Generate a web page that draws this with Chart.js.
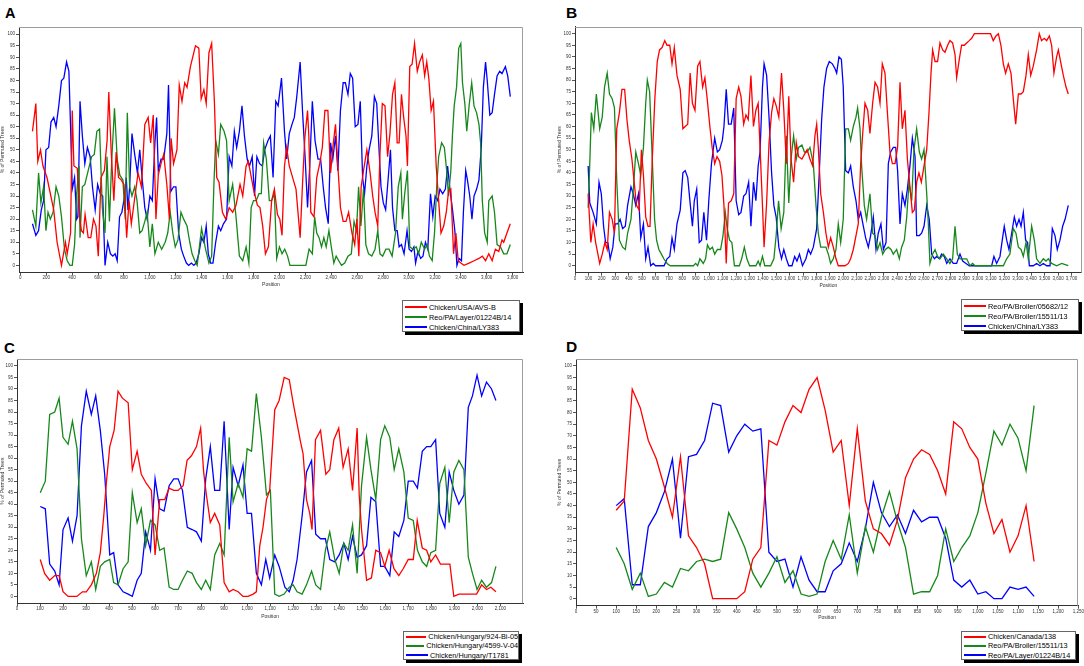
<!DOCTYPE html>
<html lang="en">
<head>
<meta charset="UTF-8">
<title>Recombination plots</title>
<script src="https://cdn.jsdelivr.net/npm/chart.js"></script>
<style>
    body { margin: 0; background: #fff; }
    #page { position: relative; width: 1084px; height: 666px; overflow: hidden; font-family: "Liberation Sans", Arial, sans-serif; }
    canvas { position: absolute; }
    .tag { position: absolute; font-weight: bold; line-height: 1; color: #000; }
    .legend {
        position: absolute;
        background: #fff;
        border: 1px solid #666;
        box-shadow: 3px 3px 0 #000;
        box-sizing: border-box;
        font-size: 7.3px;
        color: #000;
    }
    .legend .row { display: flex; align-items: center; white-space: nowrap; }
    .legend .swatch { display: inline-block; width: 22px; height: 2px; margin: 0 2px 0 2px; }
</style>
</head>
<body>
<div id="page">
    <div class="tag" style="left:5px;top:6px;font-size:14.5px">A</div>
    <div class="tag" style="left:566px;top:5px;font-size:15.5px">B</div>
    <div class="tag" style="left:4px;top:340px;font-size:15px">C</div>
    <div class="tag" style="left:566px;top:339px;font-size:15.5px">D</div>

    <canvas id="chartA" width="530" height="280" style="left:0;top:20px"></canvas>
    <canvas id="chartB" width="528" height="280" style="left:556px;top:20px"></canvas>
    <canvas id="chartC" width="530" height="280" style="left:0;top:350px"></canvas>
    <canvas id="chartD" width="528" height="280" style="left:556px;top:350px"></canvas>

    <div class="legend" id="legendA" style="left:402px;top:300px;width:118px;height:32px;padding-top:1px"></div>
    <div class="legend" id="legendB" style="left:961px;top:299px;width:118px;height:32px;padding-top:1px"></div>
    <div class="legend" id="legendC" style="left:403px;top:631px;width:116px;height:29px"></div>
    <div class="legend" id="legendD" style="left:961px;top:631px;width:115px;height:29px"></div>
</div>
<script>
    // tick labels
    const yTicks = [0, 5, 10, 15, 20, 25, 30, 35, 40, 45, 50, 55, 60, 65, 70, 75, 80, 85, 90, 95, 100];
    const aXTicks = [0, 200, 400, 600, 800, 1000, 1200, 1400, 1600, 1800, 2000, 2200, 2400, 2600, 2800, 3000, 3200, 3400, 3600, 3800];
    const bXTicks = [0, 100, 200, 300, 400, 500, 600, 700, 800, 900, 1000, 1100, 1200, 1300, 1400, 1500, 1600, 1700, 1800, 1900, 2000, 2100, 2200, 2300, 2400, 2500, 2600, 2700, 2800, 2900, 3000, 3100, 3200, 3300, 3400, 3500, 3600, 3700];
    const cXTicks = [0, 100, 200, 300, 400, 500, 600, 700, 800, 900, 1000, 1100, 1200, 1300, 1400, 1500, 1600, 1700, 1800, 1900, 2000, 2100];
    const dXTicks = [0, 50, 100, 150, 200, 250, 300, 350, 400, 450, 500, 550, 600, 650, 700, 750, 800, 850, 900, 950, 1000, 1050, 1100, 1150, 1200, 1250];

    // series names
    const aNames = ['Chicken/USA/AVS-B', 'Reo/PA/Layer/01224B/14', 'Chicken/China/LY383'];
    const bNames = ['Reo/PA/Broiler/05682/12', 'Reo/PA/Broiler/15511/13', 'Chicken/China/LY383'];
    const cNames = ['Chicken/Hungary/924-Bi-05', 'Chicken/Hungary/4599-V-04', 'Chicken/Hungary/T1781'];
    const dNames = ['Chicken/Canada/138', 'Reo/PA/Broiler/15511/13', 'Reo/PA/Layer/01224B/14'];

    // panel A: [position, % of permuted trees]
    const aRed = [[94,58],[120,70],[135,45],[156,50],[175,43],[206,38],[258,24],[284,10],[318,0],[349,10],[362,5],[388,14],[401,67],[414,43],[440,42],[461,19],[472,15],[487,14],[500,22],[524,12],[544,12],[565,20],[584,17],[602,4],[623,38],[649,41],[670,54],[683,75],[701,50],[722,28],[740,49],[758,38],[779,37],[800,35],[821,12],[839,28],[857,18],[878,27],[909,40],[935,34],[961,61],[987,64],[1006,53],[1026,65],[1047,20],[1065,39],[1086,44],[1107,48],[1131,35],[1151,20],[1164,55],[1183,44],[1209,50],[1227,78],[1248,71],[1269,79],[1287,77],[1313,86],[1352,95],[1378,94],[1396,72],[1417,76],[1435,70],[1456,92],[1477,96],[1498,71],[1516,38],[1534,36],[1560,23],[1586,20],[1612,25],[1639,23],[1665,26],[1696,35],[1717,30],[1743,43],[1760,45],[1800,33],[1830,26],[1850,25],[1871,17],[1892,5],[1915,8],[1940,28],[1961,33],[1985,22],[2003,20],[2020,13],[2039,43],[2056,51],[2076,43],[2107,37],[2128,33],[2160,12],[2178,35],[2196,55],[2217,67],[2227,56],[2242,23],[2267,21],[2288,38],[2311,44],[2331,51],[2351,67],[2374,67],[2395,40],[2412,51],[2433,61],[2451,43],[2471,25],[2492,19],[2514,19],[2534,23],[2560,14],[2581,9],[2598,20],[2613,4],[2631,34],[2649,41],[2675,50],[2700,40],[2720,30],[2738,23],[2759,17],[2776,48],[2794,70],[2815,69],[2835,47],[2853,57],[2873,74],[2891,79],[2909,53],[2924,53],[2942,74],[2959,64],[2977,56],[2988,43],[3006,86],[3024,87],[3043,96],[3064,84],[3082,88],[3103,91],[3121,82],[3137,88],[3153,81],[3171,67],[3189,71],[3210,43],[3229,28],[3247,14],[3268,17],[3288,23],[3305,32],[3323,33],[3344,5],[3362,14],[3380,2],[3400,1],[3425,0],[3464,1],[3502,2],[3540,3],[3566,4],[3591,2],[3616,5],[3642,2],[3667,7],[3693,6],[3718,11],[3731,10],[3756,14],[3782,18]];
    const aGreen = [[94,24],[120,17],[141,40],[159,27],[180,34],[198,15],[214,23],[232,20],[253,23],[276,34],[297,30],[318,21],[341,7],[362,2],[383,0],[401,0],[419,9],[435,31],[453,43],[461,12],[479,34],[498,35],[524,41],[550,47],[571,48],[591,58],[612,59],[633,25],[654,14],[669,47],[688,19],[706,46],[727,68],[748,46],[768,39],[792,37],[810,20],[826,66],[844,34],[862,30],[883,34],[901,28],[922,14],[940,15],[961,19],[979,23],[1000,8],[1019,18],[1039,5],[1065,10],[1091,7],[1118,10],[1138,14],[1157,23],[1177,14],[1196,8],[1217,11],[1240,23],[1261,20],[1287,17],[1308,10],[1326,5],[1347,2],[1365,0],[1399,16],[1430,7],[1456,1],[1477,4],[1495,36],[1508,54],[1529,48],[1547,61],[1573,58],[1592,54],[1612,28],[1639,35],[1665,21],[1691,4],[1717,2],[1743,8],[1764,1],[1782,25],[1800,28],[1821,28],[1842,31],[1860,31],[1878,53],[1899,46],[1922,28],[1940,28],[1961,31],[1979,3],[2000,8],[2020,5],[2041,7],[2063,4],[2081,0],[2204,0],[2229,7],[2254,5],[2272,21],[2288,14],[2306,12],[2325,8],[2343,12],[2361,8],[2382,15],[2403,7],[2420,1],[2438,4],[2458,2],[2479,0],[2504,1],[2529,4],[2555,5],[2576,19],[2595,15],[2611,34],[2629,17],[2649,33],[2667,9],[2688,5],[2713,4],[2738,7],[2759,15],[2776,5],[2797,4],[2822,7],[2846,7],[2870,4],[2896,14],[2917,34],[2937,40],[2949,20],[2967,31],[2988,41],[3006,8],[3031,7],[3056,8],[3074,5],[3095,10],[3121,7],[3140,9],[3158,4],[3179,2],[3197,14],[3214,34],[3229,47],[3252,53],[3273,51],[3291,41],[3305,30],[3323,41],[3336,57],[3349,69],[3367,77],[3384,94],[3400,96],[3413,79],[3431,70],[3446,58],[3464,69],[3484,79],[3502,69],[3522,66],[3540,61],[3553,53],[3566,28],[3584,14],[3604,10],[3616,28],[3642,30],[3660,23],[3680,9],[3706,8],[3731,5],[3756,5],[3782,9]];
    const aBlue = [[94,18],[120,13],[141,15],[162,24],[180,28],[198,50],[219,51],[237,62],[258,64],[276,60],[297,69],[318,80],[336,81],[357,88],[375,84],[388,60],[401,33],[419,38],[435,20],[445,21],[461,71],[479,56],[498,44],[518,51],[539,47],[557,34],[578,24],[597,35],[617,31],[636,30],[654,0],[675,10],[696,5],[714,4],[732,5],[748,2],[766,21],[784,23],[805,30],[818,38],[831,24],[844,34],[862,57],[883,48],[904,40],[922,50],[940,38],[961,25],[979,20],[1000,30],[1019,28],[1039,53],[1052,64],[1065,41],[1086,46],[1107,46],[1131,57],[1144,78],[1162,32],[1183,34],[1201,34],[1222,14],[1243,7],[1261,4],[1282,1],[1300,0],[1321,1],[1339,0],[1357,1],[1378,5],[1399,12],[1417,10],[1435,17],[1451,5],[1469,1],[1487,1],[1508,10],[1529,17],[1547,15],[1568,18],[1592,20],[1612,47],[1633,43],[1652,58],[1670,51],[1691,58],[1711,69],[1730,56],[1751,46],[1769,43],[1790,47],[1808,30],[1826,47],[1847,44],[1868,43],[1886,50],[1912,54],[1930,56],[1951,38],[1972,71],[1990,69],[2016,81],[2039,58],[2056,46],[2076,57],[2097,61],[2115,64],[2134,73],[2160,88],[2178,67],[2199,46],[2217,25],[2234,43],[2254,71],[2275,54],[2298,46],[2318,46],[2338,34],[2356,25],[2377,18],[2395,53],[2412,46],[2433,56],[2451,41],[2471,67],[2492,79],[2509,79],[2529,74],[2547,83],[2565,81],[2585,60],[2606,61],[2624,71],[2642,38],[2657,31],[2675,43],[2692,50],[2713,56],[2733,73],[2751,70],[2768,51],[2784,34],[2802,27],[2820,24],[2840,38],[2857,50],[2873,25],[2891,15],[2909,15],[2924,8],[2942,9],[2962,5],[2985,15],[3001,7],[3019,6],[3038,8],[3051,1],[3069,6],[3090,3],[3108,4],[3127,10],[3145,7],[3166,31],[3184,21],[3202,30],[3222,28],[3239,33],[3260,31],[3281,33],[3298,43],[3316,33],[3336,24],[3354,15],[3370,0],[3387,3],[3405,2],[3420,23],[3438,41],[3451,37],[3469,30],[3486,20],[3502,30],[3522,33],[3540,37],[3558,51],[3574,77],[3591,88],[3604,80],[3624,65],[3642,66],[3660,74],[3680,82],[3700,84],[3718,83],[3744,86],[3762,82],[3782,73]];

    // panel B
    const bRed = [[98,31],[118,10],[135,18],[154,10],[184,1],[203,5],[223,10],[240,7],[257,23],[277,20],[294,14],[311,59],[331,66],[350,76],[370,76],[387,63],[404,54],[424,46],[441,36],[458,26],[478,24],[495,50],[510,39],[527,21],[544,17],[559,17],[576,46],[595,72],[613,88],[630,93],[649,94],[669,97],[686,95],[706,95],[723,87],[740,94],[760,82],[784,76],[804,59],[821,60],[840,61],[858,83],[875,70],[894,67],[914,86],[931,88],[951,77],[968,81],[985,72],[1005,60],[1022,51],[1041,44],[1058,47],[1078,45],[1095,39],[1110,26],[1127,1],[1144,27],[1164,28],[1183,31],[1201,72],[1220,77],[1237,73],[1257,61],[1274,65],[1291,63],[1311,82],[1330,60],[1348,67],[1365,70],[1379,51],[1397,26],[1409,8],[1428,27],[1446,53],[1465,66],[1482,72],[1499,69],[1519,64],[1539,83],[1556,67],[1575,44],[1593,73],[1610,46],[1629,36],[1649,53],[1666,47],[1691,46],[1710,48],[1730,50],[1751,46],[1771,43],[1788,56],[1801,61],[1813,51],[1831,31],[1851,23],[1870,14],[1888,8],[1905,12],[1925,8],[1945,3],[1962,0],[1987,0],[2012,0],[2037,1],[2054,3],[2074,7],[2094,13],[2111,18],[2129,44],[2144,57],[2161,70],[2181,67],[2198,57],[2218,70],[2236,79],[2255,77],[2273,70],[2290,87],[2310,83],[2327,67],[2347,49],[2365,44],[2385,44],[2404,51],[2422,79],[2439,59],[2459,67],[2477,46],[2496,34],[2514,23],[2529,24],[2546,36],[2563,40],[2581,36],[2601,43],[2621,50],[2638,66],[2653,83],[2665,93],[2683,88],[2702,88],[2720,96],[2740,93],[2757,92],[2777,95],[2794,97],[2814,96],[2832,91],[2844,81],[2864,89],[2881,95],[2901,95],[2919,96],[2938,97],[2956,98],[2976,100],[3006,100],[3055,100],[3097,100],[3117,97],[3137,99],[3155,100],[3174,95],[3192,87],[3209,83],[3229,87],[3249,83],[3266,72],[3284,61],[3304,74],[3324,74],[3341,75],[3361,82],[3378,91],[3396,82],[3415,86],[3440,93],[3460,100],[3477,97],[3497,98],[3515,97],[3535,99],[3552,95],[3569,83],[3589,90],[3602,93],[3622,87],[3639,82],[3659,77],[3676,74]];
    const bGreen = [[98,25],[110,44],[122,66],[140,59],[159,74],[184,59],[203,64],[220,77],[240,83],[257,74],[277,72],[294,68],[311,37],[331,11],[355,8],[375,7],[392,14],[417,20],[436,34],[453,49],[473,44],[490,39],[510,51],[527,70],[539,80],[556,75],[576,46],[593,20],[608,11],[625,7],[644,5],[662,3],[686,1],[710,0],[882,0],[899,1],[914,0],[931,3],[956,1],[973,3],[987,9],[1005,7],[1024,8],[1041,5],[1061,7],[1085,7],[1103,13],[1120,23],[1134,16],[1152,11],[1169,10],[1188,0],[1225,0],[1242,3],[1262,8],[1281,3],[1301,0],[1348,0],[1365,2],[1379,0],[1397,4],[1414,0],[1458,0],[1482,3],[1499,13],[1517,28],[1536,16],[1556,23],[1575,56],[1593,27],[1610,46],[1629,56],[1649,46],[1666,51],[1691,52],[1710,49],[1730,49],[1751,51],[1776,44],[1796,26],[1813,14],[1831,8],[1851,8],[1870,8],[1888,5],[1905,1],[1925,3],[1945,7],[1962,18],[1980,10],[1999,20],[2017,59],[2037,59],[2054,54],[2074,60],[2094,64],[2106,68],[2124,59],[2136,43],[2156,26],[2173,20],[2198,31],[2218,14],[2236,13],[2255,7],[2273,10],[2293,5],[2313,7],[2335,8],[2355,7],[2372,5],[2397,7],[2417,3],[2434,8],[2454,11],[2472,21],[2489,36],[2509,28],[2526,50],[2546,59],[2566,49],[2583,46],[2601,50],[2621,31],[2633,18],[2645,1],[2665,5],[2683,7],[2702,4],[2720,3],[2745,5],[2770,3],[2794,1],[2814,3],[2832,17],[2849,5],[2869,3],[2894,3],[2919,3],[2943,0],[2963,1],[2981,0],[3192,0],[3217,3],[3241,5],[3266,16],[3286,14],[3304,8],[3324,7],[3341,4],[3361,10],[3378,3],[3403,17],[3423,11],[3440,3],[3465,1],[3490,3],[3510,2],[3527,3],[3552,1],[3589,0],[3627,1],[3676,0]];
    const bBlue = [[98,43],[110,27],[135,23],[159,18],[179,36],[196,31],[213,17],[228,10],[245,10],[262,3],[282,8],[299,18],[318,18],[336,20],[355,16],[375,17],[392,26],[417,34],[434,31],[453,26],[473,31],[490,12],[510,18],[527,3],[544,8],[564,0],[583,1],[600,0],[625,0],[644,0],[664,0],[686,3],[706,4],[723,12],[740,7],[760,18],[784,24],[804,40],[821,41],[840,38],[858,27],[875,17],[889,28],[907,33],[926,10],[943,11],[960,23],[980,11],[997,28],[1017,44],[1041,55],[1061,49],[1078,50],[1098,54],[1110,60],[1127,76],[1144,61],[1164,61],[1183,68],[1201,28],[1220,22],[1237,23],[1257,30],[1274,31],[1294,36],[1311,17],[1330,36],[1348,28],[1365,43],[1379,49],[1397,77],[1409,87],[1428,82],[1446,64],[1465,40],[1482,26],[1499,21],[1519,8],[1539,3],[1556,7],[1575,3],[1593,0],[1617,0],[1637,4],[1654,2],[1673,5],[1695,0],[1721,3],[1739,7],[1756,5],[1776,8],[1801,16],[1821,41],[1838,63],[1855,77],[1875,85],[1895,88],[1918,87],[1937,85],[1950,83],[1967,90],[1985,89],[1999,77],[2017,41],[2037,40],[2054,43],[2074,34],[2094,28],[2111,20],[2129,23],[2149,17],[2166,12],[2186,8],[2203,13],[2223,21],[2243,7],[2260,14],[2280,18],[2298,7],[2318,10],[2335,44],[2352,49],[2372,51],[2390,51],[2404,41],[2422,18],[2439,31],[2459,26],[2477,33],[2496,43],[2514,55],[2534,47],[2546,13],[2566,13],[2583,14],[2601,17],[2621,26],[2640,20],[2658,5],[2678,3],[2695,4],[2715,3],[2732,5],[2752,4],[2770,1],[2794,3],[2819,1],[2844,1],[2869,5],[2889,2],[2914,1],[2938,0],[2968,0],[3105,0],[3122,4],[3142,1],[3167,4],[3184,11],[3199,17],[3217,11],[3234,7],[3254,14],[3274,21],[3291,17],[3309,20],[3324,17],[3341,23],[3358,11],[3373,10],[3386,0],[3415,0],[3440,1],[3465,0],[3490,1],[3515,0],[3540,0],[3557,16],[3577,13],[3594,7],[3614,11],[3634,17],[3652,20],[3676,26]];

    // panel C
    const cRed = [[101,16],[120,10],[142,7],[164,9],[183,9],[200,2],[222,0],[260,0],[284,2],[301,2],[323,5],[345,10],[362,19],[377,35],[388,49],[403,65],[422,72],[439,89],[458,86],[483,84],[501,55],[522,63],[540,53],[562,49],[584,46],[600,18],[620,42],[642,42],[661,47],[681,46],[700,46],[722,48],[739,59],[758,61],[780,65],[798,73],[811,54],[823,44],[840,32],[859,36],[881,31],[900,6],[922,2],[939,3],[961,2],[982,0],[1004,0],[1026,1],[1040,2],[1055,22],[1069,30],[1084,42],[1098,46],[1120,81],[1139,85],[1161,95],[1183,94],[1200,84],[1217,75],[1232,67],[1243,62],[1258,42],[1272,36],[1282,29],[1297,68],[1319,72],[1342,53],[1359,55],[1377,68],[1398,73],[1417,56],[1439,64],[1458,46],[1478,73],[1487,44],[1497,29],[1519,7],[1540,8],[1559,20],[1580,19],[1598,13],[1617,20],[1638,12],[1659,9],[1678,12],[1700,16],[1722,16],[1739,33],[1761,21],[1780,20],[1798,15],[1819,18],[1840,14],[1859,14],[1881,14],[1898,0],[1920,1],[1961,1],[1997,1],[2019,5],[2040,3],[2059,4],[2081,2]];
    const cGreen = [[101,45],[123,50],[142,79],[164,80],[183,86],[200,69],[222,66],[241,76],[261,64],[280,25],[301,9],[323,15],[342,3],[362,13],[381,15],[403,16],[420,6],[439,5],[461,12],[483,15],[501,45],[522,32],[540,38],[559,22],[580,33],[600,31],[620,20],[639,21],[661,4],[681,3],[700,3],[719,7],[740,11],[761,10],[780,6],[801,3],[820,7],[840,3],[859,18],[881,23],[900,18],[922,69],[939,41],[961,49],[982,43],[1000,64],[1019,63],[1040,88],[1062,69],[1084,44],[1101,46],[1120,1],[1139,0],[1161,1],[1183,4],[1200,5],[1217,2],[1239,1],[1258,5],[1280,11],[1298,5],[1319,3],[1340,20],[1359,28],[1381,16],[1400,10],[1420,23],[1439,20],[1458,31],[1478,10],[1497,48],[1519,69],[1538,55],[1559,42],[1580,68],[1598,74],[1620,69],[1639,55],[1659,64],[1681,54],[1700,34],[1722,33],[1740,20],[1761,15],[1780,13],[1798,19],[1819,20],[1837,49],[1859,56],[1878,32],[1898,54],[1920,59],[1942,55],[1961,17],[1979,10],[1999,3],[2019,7],[2040,4],[2062,6],[2081,13]];
    const cBlue = [[101,39],[123,38],[142,14],[164,11],[183,5],[200,29],[222,34],[241,24],[261,35],[280,74],[301,89],[323,79],[342,87],[362,72],[381,53],[403,18],[420,19],[439,5],[461,2],[483,1],[501,0],[522,7],[540,10],[559,28],[580,20],[600,51],[620,38],[639,37],[661,48],[681,51],[700,51],[719,46],[740,30],[761,29],[780,28],[801,24],[820,51],[840,65],[859,46],[881,46],[900,76],[922,29],[939,56],[961,48],[982,57],[1000,36],[1019,36],[1040,10],[1062,5],[1081,16],[1098,8],[1120,18],[1139,13],[1164,4],[1183,2],[1200,7],[1217,16],[1239,35],[1258,54],[1280,59],[1298,27],[1319,25],[1340,25],[1359,16],[1381,15],[1400,18],[1420,23],[1439,16],[1458,26],[1478,17],[1497,18],[1519,22],[1538,43],[1559,41],[1580,13],[1598,13],[1620,9],[1639,28],[1659,26],[1681,33],[1700,50],[1722,50],[1740,47],[1761,63],[1780,65],[1798,65],[1819,68],[1837,36],[1859,30],[1878,54],[1898,46],[1920,40],[1942,44],[1961,82],[1979,87],[1999,96],[2019,87],[2040,93],[2062,90],[2081,85]];

    // panel D: regular positions, one value per position
    const dPos = [100, 120, 140, 160, 180, 200, 220, 240, 260, 280, 300, 320, 340, 360, 380, 400, 420, 440, 460, 480, 500, 520, 540, 560, 580, 600, 620, 640, 660, 680, 700, 720, 740, 760, 780, 800, 820, 840, 860, 880, 900, 920, 940, 960, 980, 1000, 1020, 1040, 1060, 1080, 1100, 1120, 1140];
    const dRed = [38, 42, 90, 82, 68, 60, 48, 35, 61, 27, 22, 15, 0, 0, 0, 0, 3, 17, 22, 68, 66, 76, 83, 80, 90, 95, 81, 63, 68, 40, 73, 42, 30, 28, 23, 34, 52, 60, 64, 62, 55, 45, 76, 73, 65, 60, 41, 28, 34, 20, 27, 40, 16];
    const dGreen = [22, 15, 4, 11, 1, 2, 7, 5, 13, 12, 16, 17, 16, 17, 37, 30, 22, 11, 5, 11, 18, 7, 12, 2, 1, 2, 16, 25, 17, 36, 11, 31, 20, 35, 46, 33, 22, 2, 3, 3, 10, 30, 16, 22, 27, 37, 54, 72, 66, 75, 69, 55, 83];
    const dBlue = [40, 43, 6, 6, 31, 37, 46, 60, 26, 61, 62, 68, 84, 83, 63, 70, 75, 72, 73, 20, 16, 17, 5, 18, 8, 3, 3, 12, 15, 24, 16, 30, 50, 37, 31, 36, 28, 38, 33, 35, 35, 26, 8, 5, 8, 2, 3, 0, 0, 5, 4, 5, 1];

    const colors = ['#ff0000', '#16881a', '#0000ff'];
    const font = '"Liberation Sans", Arial, sans-serif';

    // gray top and right edges of the plot box
    const frame = {
        id: 'frame',
        afterDraw(chart) {
            const a = chart.chartArea;
            const ctx = chart.ctx;
            const top = Math.round(a.top) + 0.5;
            const right = Math.round(a.right) - 0.5;
            ctx.save();
            ctx.strokeStyle = '#9c9c9c';
            ctx.lineWidth = 1;
            ctx.beginPath();
            ctx.moveTo(a.left, top);
            ctx.lineTo(right, top);
            ctx.lineTo(right, a.bottom);
            ctx.stroke();
            ctx.restore();
        }
    };

    function toPoints(pairs) {
        return pairs.map(p => ({ x: p[0], y: p[1] }));
    }

    function zipPoints(pos, vals) {
        return pos.map((x, i) => ({ x: x, y: vals[i] }));
    }

    function makeChart(id, p) {
        new Chart(document.getElementById(id), {
            type: 'line',
            data: {
                datasets: p.series.map((s, i) => ({
                    label: p.names[i],
                    data: s,
                    borderColor: colors[i],
                    borderWidth: 1.3,
                    pointRadius: 0,
                    tension: 0,
                    fill: false
                }))
            },
            options: {
                responsive: false,
                animation: false,
                events: [],
                layout: { padding: p.pad },
                plugins: { legend: { display: false }, tooltip: { enabled: false } },
                scales: {
                    x: {
                        type: 'linear',
                        min: p.xMin,
                        max: p.xMax,
                        afterBuildTicks: s => { s.ticks = p.xTicks.map(v => ({ value: v })); },
                        afterFit: s => { s.height = p.xh; },
                        ticks: {
                            autoSkip: false,
                            maxRotation: 0,
                            padding: 0,
                            color: '#333',
                            font: { size: 4.5, family: font },
                            callback: v => v.toLocaleString('en-US')
                        },
                        grid: { drawOnChartArea: false, tickLength: 3, color: '#555' },
                        border: { color: '#333', width: 1 },
                        title: {
                            display: true,
                            text: 'Position',
                            color: '#333',
                            font: { size: 5, family: font },
                            padding: { top: 0, bottom: p.xTitlePad }
                        }
                    },
                    y: {
                        min: -3,
                        max: 103,
                        afterBuildTicks: s => { s.ticks = yTicks.map(v => ({ value: v })); },
                        afterFit: s => { s.width = p.yw; },
                        ticks: {
                            padding: 1,
                            color: '#333',
                            font: { size: 4.5, family: font },
                            callback: v => String(v)
                        },
                        grid: { drawOnChartArea: false, tickLength: 3, color: '#555' },
                        border: { color: '#333', width: 1 },
                        title: {
                            display: true,
                            text: '% of Permuted Trees',
                            color: '#333',
                            font: { size: 5, family: font },
                            padding: { top: p.yTitlePad, bottom: 0 }
                        }
                    }
                }
            },
            plugins: [frame]
        });

        const box = document.getElementById(p.legend);
        p.names.forEach((name, i) => {
            const row = document.createElement('div');
            row.className = 'row';
            row.style.height = p.rowH + 'px';
            const sw = document.createElement('span');
            sw.className = 'swatch';
            sw.style.background = colors[i];
            row.appendChild(sw);
            row.appendChild(document.createTextNode(name));
            box.appendChild(row);
        });
    }

    makeChart('chartA', {
        series: [toPoints(aRed), toPoints(aGreen), toPoints(aBlue)], names: aNames, legend: 'legendA',
        xMin: -10, xMax: 3880, xTicks: aXTicks,
        pad: { left: 0, top: 7.3, right: 7, bottom: 0 }, yw: 19, xh: 27.7, xTitlePad: 12, yTitlePad: 0, rowH: 10
    });
    makeChart('chartB', {
        series: [toPoints(bRed), toPoints(bGreen), toPoints(bBlue)], names: bNames, legend: 'legendB',
        xMin: 0, xMax: 3776, xTicks: bXTicks,
        pad: { left: 0, top: 6.7, right: 2.3, bottom: 0 }, yw: 19, xh: 27.3, xTitlePad: 11.3, yTitlePad: 1, rowH: 10
    });
    makeChart('chartC', {
        series: [toPoints(cRed), toPoints(cGreen), toPoints(cBlue)], names: cNames, legend: 'legendC',
        xMin: 0, xMax: 2200, xTicks: cXTicks,
        pad: { left: 0, top: 9, right: 6.7, bottom: 0 }, yw: 17, xh: 26.7, xTitlePad: 10.3, yTitlePad: 0, rowH: 9.3
    });
    makeChart('chartD', {
        series: [zipPoints(dPos, dRed), zipPoints(dPos, dGreen), zipPoints(dPos, dBlue)], names: dNames, legend: 'legendD',
        xMin: 0, xMax: 1250, xTicks: dXTicks,
        pad: { left: 0, top: 9, right: 5.7, bottom: 0 }, yw: 20, xh: 24.3, xTitlePad: 9.3, yTitlePad: 1, rowH: 9.3
    });
</script>
</body>
</html>
